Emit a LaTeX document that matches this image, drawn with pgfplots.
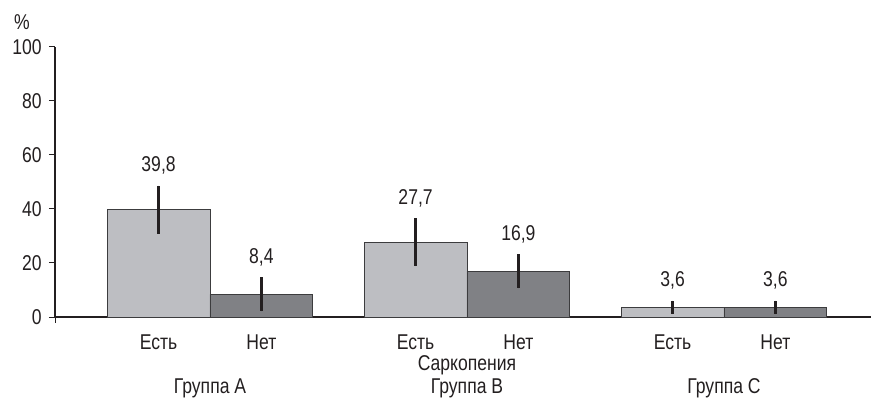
\documentclass[border=0pt]{standalone}
\usepackage{pgfplots}
\usepackage{pgfplotstable}
\pgfplotsset{compat=1.18}
\usepackage{fontspec}
\setmainfont{Liberation Sans}[FakeStretch=0.82]

\definecolor{barlight}{RGB}{189,190,194}
\definecolor{bardark}{RGB}{128,129,133}
\definecolor{outline}{RGB}{60,60,62}
\definecolor{ink}{RGB}{35,31,32}

% Sarcopenia present (Есть) and absent (Нет), by group; err = half-width of the interval
\pgfplotstableread{
x   y    err  lab
0.8 39.8 8.9  39,8
1.8 27.7 8.9  27,7
2.8 3.6  2.5  3,6
}\esty
\pgfplotstableread{
x   y    err  lab
1.2 8.4  6.3  8,4
2.2 16.9 6.3  16,9
3.2 3.6  2.5  3,6
}\nety

\begin{document}
\fontsize{21.5}{25}\selectfont
\begin{tikzpicture}
\useasboundingbox (0,0) rectangle (871bp,399bp);
\begin{axis}[
  at={(55bp,82bp)}, anchor=south west,
  scale only axis, width=816bp, height=270bp,
  xmin=0.397, xmax=3.572, ymin=0, ymax=100,
  axis x line*=bottom, axis y line*=left,
  axis line style={line width=1.2bp, color=ink},
  ytick={0,20,...,100},
  xtick={0.8,1.2,1.8,2.2,2.8,3.2},
  xticklabels={Есть,Нет,Есть,Нет,Есть,Нет},
  xtick style={draw=none},
  ytick style={line width=1bp, color=ink},
  tick align=outside, major tick length=6bp,
  /pgf/number format/assume math mode=true,
  tick label style={color=ink},
  xticklabel style={yshift=-4bp},
  clip=false,
]
\addplot[ybar, bar width=0.4, bar shift=0pt, fill=barlight, draw=outline, line width=0.9bp,
  point meta=explicit symbolic, nodes near coords,
  visualization depends on={\thisrow{err}\as\errval},
  every node near coord/.append style={anchor=base, color=ink,
    shift={(axis direction cs:0,\errval)}, yshift=14bp},
  error bars/.cd, y dir=both, y explicit, error mark=none,
  error bar style={line width=2.4bp, color=ink}]
  table[x=x, y=y, y error=err, meta=lab] \esty;
\addplot[ybar, bar width=0.4, bar shift=0pt, fill=bardark, draw=outline, line width=0.9bp,
  point meta=explicit symbolic, nodes near coords,
  visualization depends on={\thisrow{err}\as\errval},
  every node near coord/.append style={anchor=base, color=ink,
    shift={(axis direction cs:0,\errval)}, yshift=14bp},
  error bars/.cd, y dir=both, y explicit, error mark=none,
  error bar style={line width=2.4bp, color=ink}]
  table[x=x, y=y, y error=err, meta=lab] \nety;
% small tick below the origin
\draw[ink, line width=1bp] (axis cs:0.397,0) -- ([yshift=-6bp]axis cs:0.397,0);
\node[color=ink] at (axis cs:2,0) [yshift=-48bp] {Саркопения};
\node[color=ink] at (axis cs:1,0) [yshift=-71bp] {Группа A};
\node[color=ink] at (axis cs:2,0) [yshift=-71bp] {Группа B};
\node[color=ink] at (axis cs:3,0) [yshift=-71bp] {Группа C};
\end{axis}
\node[color=ink] at (22bp,377bp) {\%};
\end{tikzpicture}
\end{document}
